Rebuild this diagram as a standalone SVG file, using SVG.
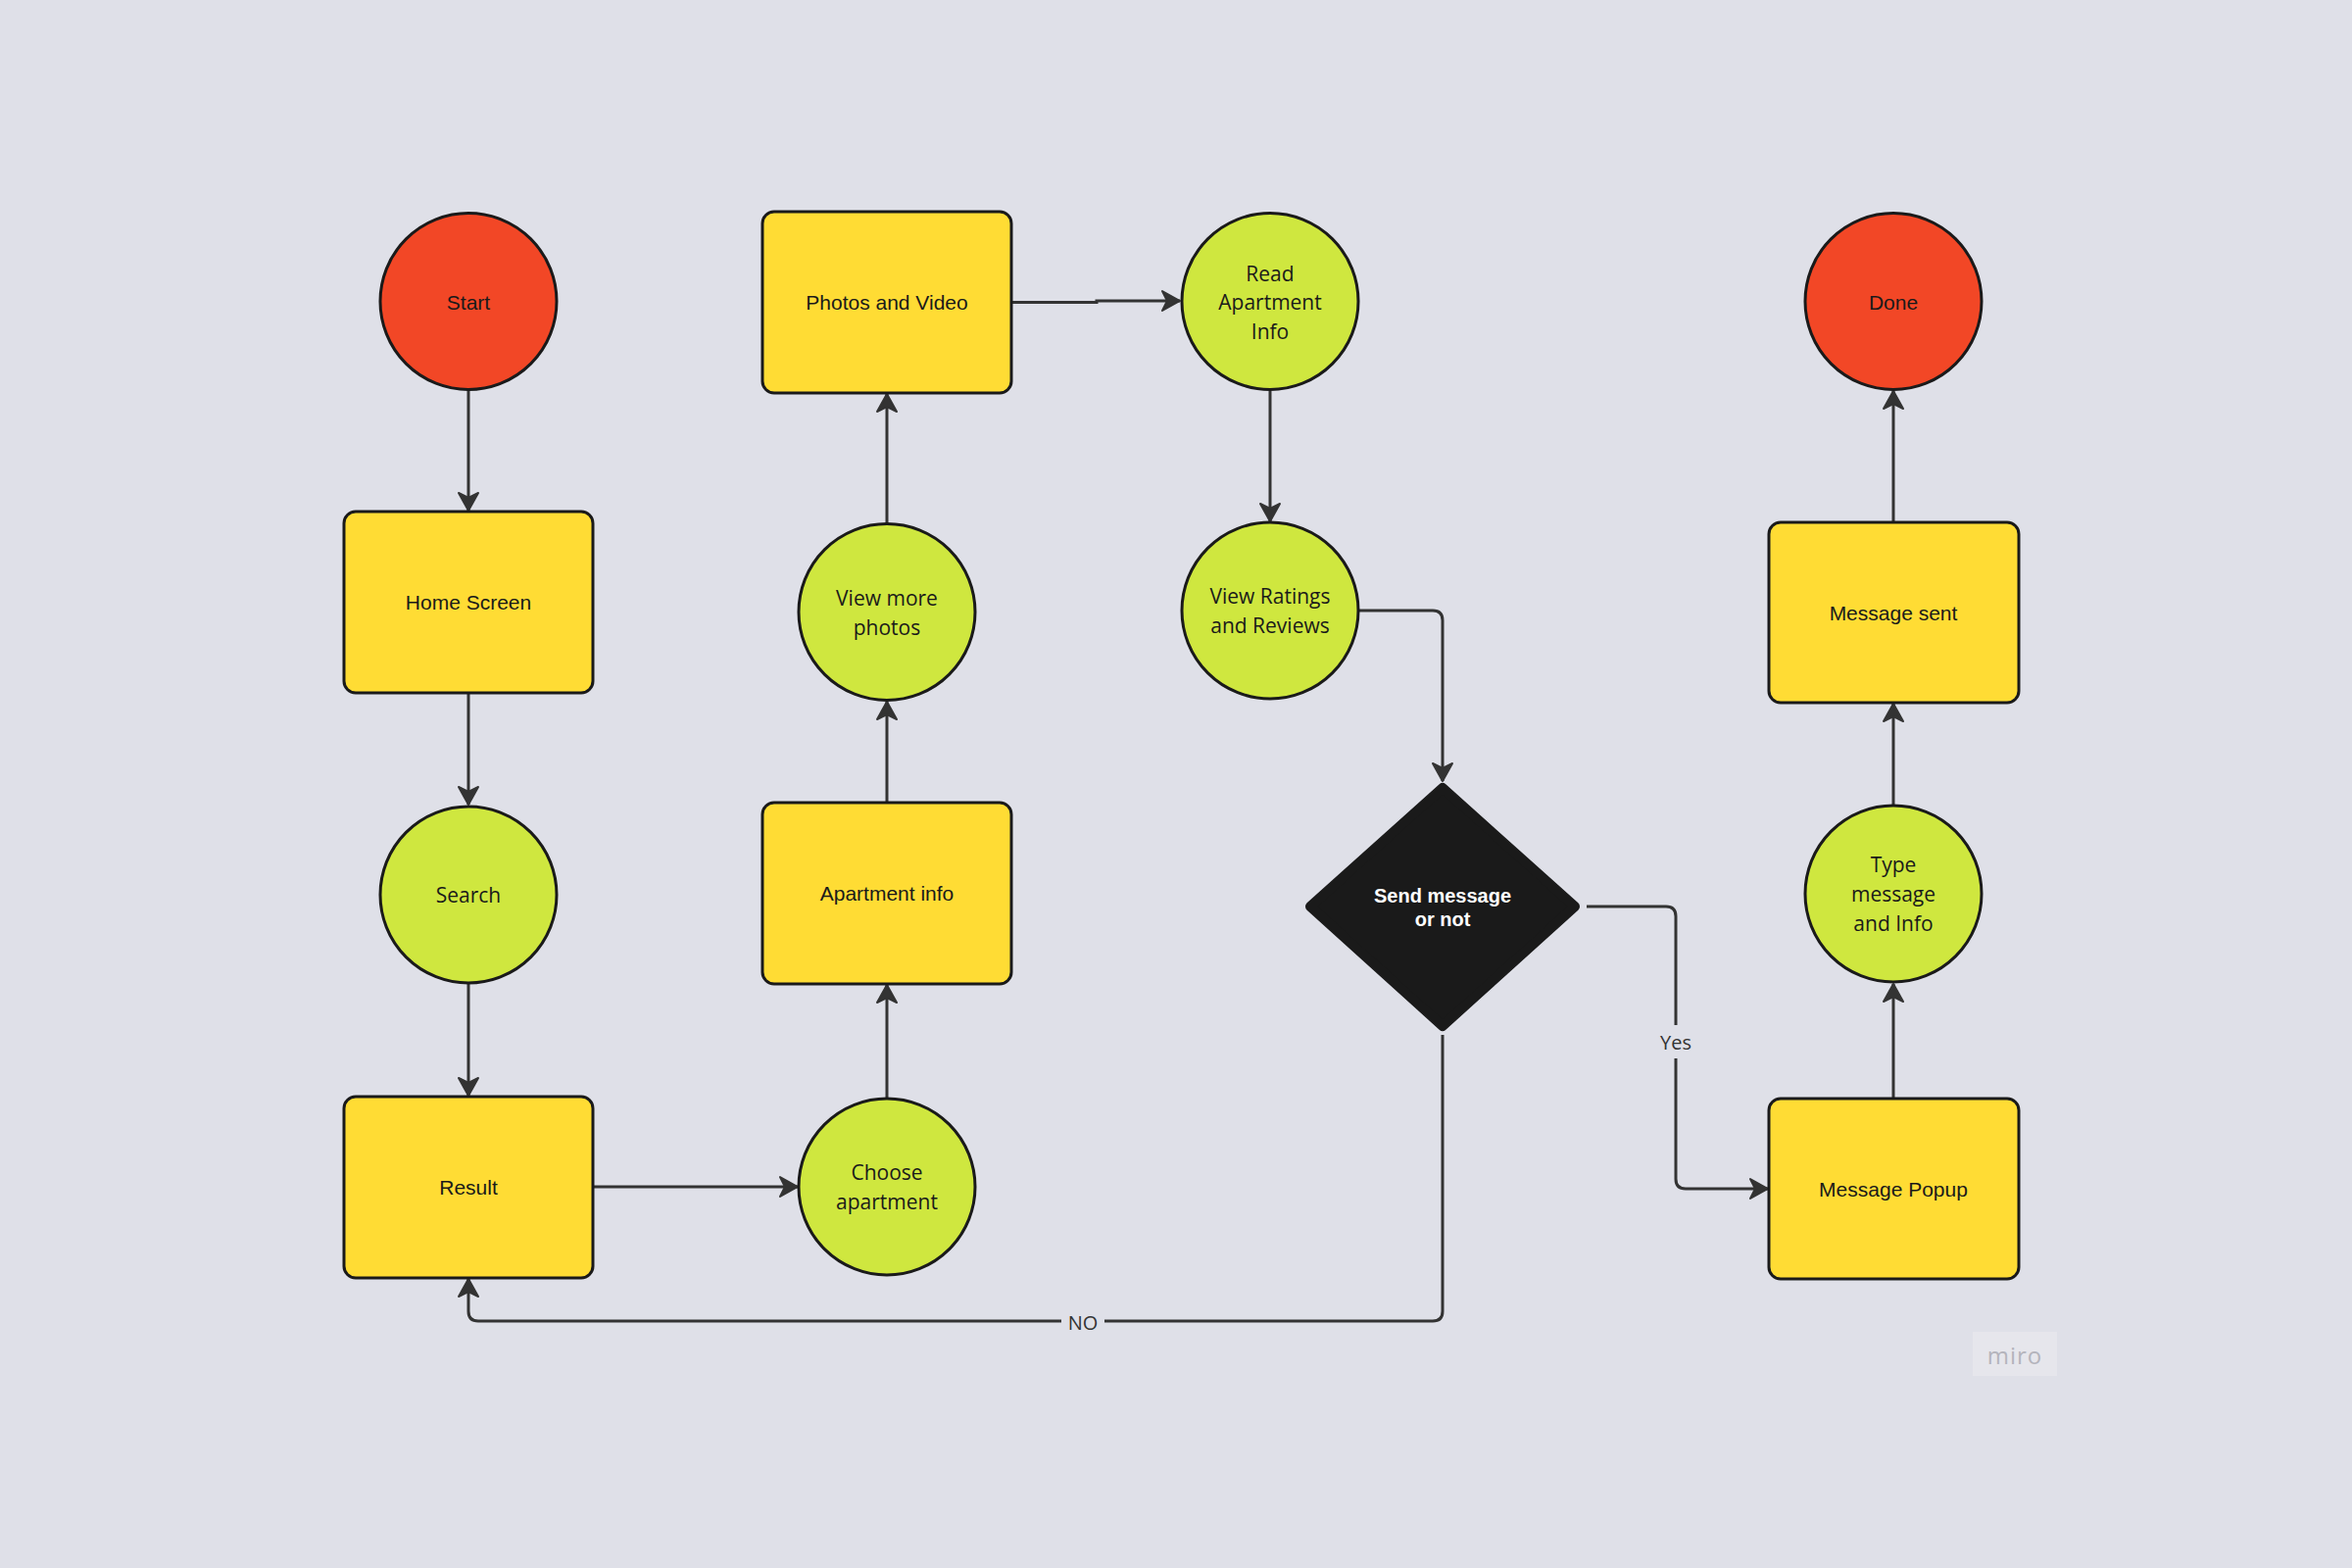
<svg xmlns="http://www.w3.org/2000/svg" width="2400" height="1600" viewBox="0 0 2400 1600">
<style>
.bg{fill:#dfe0e8}
.red{fill:#f24726;stroke:#1a1a1a;stroke-width:3}
.yel{fill:#ffdc34;stroke:#1a1a1a;stroke-width:3}
.grn{fill:#cfe73f;stroke:#1a1a1a;stroke-width:3}
.dia{fill:#1a1a1a;stroke:#1a1a1a;stroke-width:10;stroke-linejoin:round}
.ta{font-family:"Liberation Sans",Arial,sans-serif;font-size:21px;fill:#1a1a1a;text-anchor:middle;dominant-baseline:central}
.to{font-family:"Open Sans","Liberation Sans",sans-serif;font-size:21px;fill:#1a1a1a;text-anchor:middle;dominant-baseline:central}
.tw{font-family:"Liberation Sans",Arial,sans-serif;font-size:20px;font-weight:bold;fill:#ffffff;text-anchor:middle;dominant-baseline:central}
.tl{font-family:"Open Sans","Liberation Sans",sans-serif;font-size:20px;fill:#333333;text-anchor:middle;dominant-baseline:central}
.c{fill:none;stroke:#333333;stroke-width:3;marker-end:url(#arr)}
</style>
<defs>
<marker id="arr" markerUnits="userSpaceOnUse" markerWidth="24" markerHeight="24" viewBox="-20 -12 22 24" refX="0" refY="0" orient="auto">
<path d="M0,0 L-18,-10 L-13,0 L-18,10 Z" fill="#333333" stroke="#333333" stroke-width="2" stroke-linejoin="round"/>
</marker>
</defs>
<rect class="bg" x="0" y="0" width="2400" height="1600"/>

<g id="connectors">
<path class="c" d="M478,398 V521"/>
<path class="c" d="M478,707 V821"/>
<path class="c" d="M478,1004 V1118"/>
<path class="c" d="M605,1211 H814"/>
<path class="c" d="M905,1121 V1005"/>
<path class="c" d="M905,819 V716"/>
<path class="c" d="M905,534 V402"/>
<path class="c" d="M1032,308.5 H1119 V307 H1204"/>
<path class="c" d="M1296,399 V532"/>
<path class="c" d="M1386,623 H1462 Q1472,623 1472,633 V797"/>
<path class="c" d="M1619,925 H1700 Q1710,925 1710,935 V1203 Q1710,1213 1720,1213 H1804"/>
<path class="c" d="M1472,1056 V1338 Q1472,1348 1462,1348 H488 Q478,1348 478,1338 V1305"/>
<path class="c" d="M1932,1121 V1004"/>
<path class="c" d="M1932,821 V718"/>
<path class="c" d="M1932,533 V399"/>
<rect class="bg" x="1686" y="1046" width="48" height="34"/>
<text class="tl" x="1710" y="1063">Yes</text>
<rect class="bg" x="1083" y="1332" width="44" height="32"/>
<text class="tl" x="1105" y="1349">NO</text>
</g>

<g id="start"><circle class="red" cx="478" cy="307.5" r="90"/><text class="ta" x="478" y="308" fill="#2b2b2b">Start</text></g>
<g id="home"><rect class="yel" x="351" y="522" width="254" height="185" rx="12"/><text class="ta" x="478" y="614.5">Home Screen</text></g>
<g id="search"><circle class="grn" cx="478" cy="913" r="90"/><text class="to" x="478" y="913">Search</text></g>
<g id="result"><rect class="yel" x="351" y="1119" width="254" height="185" rx="12"/><text class="ta" x="478" y="1211.5">Result</text></g>
<g id="choose"><circle class="grn" cx="905" cy="1211" r="90"/><text class="to" x="905" y="1196">Choose</text><text class="to" x="905" y="1226">apartment</text></g>
<g id="aptinfo"><rect class="yel" x="778" y="819" width="254" height="185" rx="12"/><text class="ta" x="905" y="911.5">Apartment info</text></g>
<g id="viewmore"><circle class="grn" cx="905" cy="624.5" r="90"/><text class="to" x="905" y="610">View more</text><text class="to" x="905" y="640">photos</text></g>
<g id="photos"><rect class="yel" x="778" y="216" width="254" height="185" rx="12"/><text class="ta" x="905" y="308.5">Photos and Video</text></g>
<g id="readinfo"><circle class="grn" cx="1296" cy="307.5" r="90"/><text class="to" x="1296" y="278.5">Read</text><text class="to" x="1296" y="308">Apartment</text><text class="to" x="1296" y="337.5">Info</text></g>
<g id="ratings"><circle class="grn" cx="1296" cy="623" r="90"/><text class="to" x="1296" y="608">View Ratings</text><text class="to" x="1296" y="638">and Reviews</text></g>
<g id="decision"><polygon class="dia" points="1472,804 1607,925 1472,1047 1337,925"/><text class="tw" x="1472" y="914">Send message</text><text class="tw" x="1472" y="938">or not</text></g>
<g id="popup"><rect class="yel" x="1805" y="1121" width="255" height="184" rx="12"/><text class="ta" x="1932" y="1213">Message Popup</text></g>
<g id="typemsg"><circle class="grn" cx="1932" cy="912" r="90"/><text class="to" x="1932" y="882">Type</text><text class="to" x="1932" y="912">message</text><text class="to" x="1932" y="942">and Info</text></g>
<g id="sent"><rect class="yel" x="1805" y="533" width="255" height="184" rx="12"/><text class="ta" x="1932" y="625">Message sent</text></g>
<g id="done"><circle class="red" cx="1932" cy="307.5" r="90"/><text class="ta" x="1932" y="308" fill="#2b2b2b">Done</text></g>

<g id="watermark"><rect x="2013" y="1359" width="86" height="45" fill="#e6e6ec"/><text x="2056" y="1382" font-family="'Open Sans','Liberation Sans',sans-serif" font-size="24" fill="#b4b4bc" text-anchor="middle" dominant-baseline="central" letter-spacing="1">miro</text></g>
</svg>
